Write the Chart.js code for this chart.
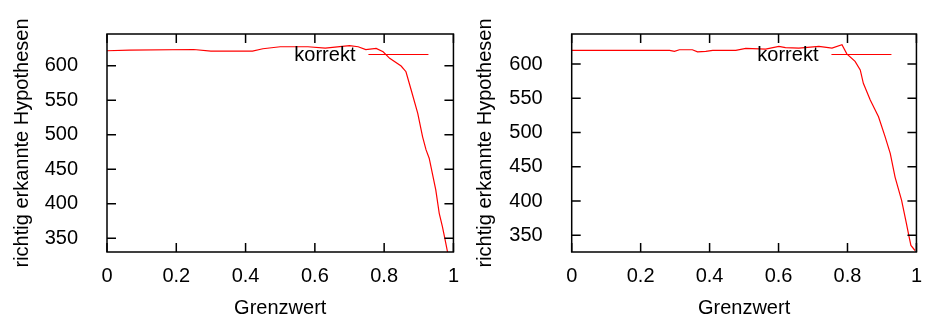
<!DOCTYPE html>
<html>
<head>
<meta charset="utf-8">
<script src="https://cdn.jsdelivr.net/npm/chart.js@4/dist/chart.umd.min.js"></script>
<style>
    body { margin: 0; background: #fff; }
    #wrap { display: flex; width: 926px; height: 320px; }
    canvas { display: block; }
</style>
</head>
<body>
<div id="wrap">
    <canvas id="chartLeft" width="463" height="320"></canvas>
    <canvas id="chartRight" width="463" height="320"></canvas>
</div>
<script>
'use strict';

//
// Data
//

const xTitle = 'Grenzwert';
const yTitle = 'richtig erkannte Hypothesen';
const seriesLabel = 'korrekt';

const xTicks = [0, 0.2, 0.4, 0.6, 0.8, 1];
const yTicks = [350, 400, 450, 500, 550, 600];

const leftThreshold = [0, 0.065, 0.25, 0.30, 0.42, 0.45, 0.50, 0.58, 0.63, 0.70, 0.725, 0.747, 0.777,
    0.797, 0.816, 0.849, 0.863, 0.878, 0.897, 0.911, 0.921, 0.930, 0.949, 0.959, 0.968, 0.975, 0.983];
const leftCorrect = [621.7, 622.7, 623.5, 621.3, 621.3, 624.6, 627.5, 627.5, 625.6, 629, 627.5, 623.5, 625,
    620.3, 610.7, 599.6, 591.3, 564.8, 531, 497, 478, 466, 420, 386, 367, 350, 330];

const rightThreshold = [0, 0.284, 0.298, 0.3125, 0.35, 0.365, 0.389, 0.409, 0.476, 0.505, 0.5625, 0.601, 0.62,
    0.659, 0.717, 0.755, 0.784, 0.798, 0.822, 0.837, 0.846, 0.866, 0.89, 0.909, 0.924, 0.938, 0.957,
    0.971, 0.979, 0.984, 0.996];
const rightCorrect = [620, 620, 618.6, 621, 621, 618, 618.6, 620, 620, 623, 622, 626, 624,
    623.5, 625.8, 623.5, 628.3, 615, 604, 591.6, 572, 547.6, 523, 494, 469.5, 435, 401,
    367, 347, 335, 327.7];

const leftRange = [330, 646];
const rightRange = [325.5, 644];

const fontFamily = '"Liberation Sans", Arial, sans-serif';


//
// Plugins: gnuplot style frame with inward ticks, y label and the key
//

const framePlugin = {
    id: 'frame',
    afterDatasetsDraw(chart) {
        const ctx = chart.ctx;
        const a = chart.chartArea;
        const xs = chart.scales.x;
        const ys = chart.scales.y;
        const len = 9;
        ctx.save();
        ctx.strokeStyle = '#000';
        ctx.lineWidth = 1.5;
        ctx.beginPath();
        xs.ticks.forEach((t) => {
            let px = xs.getPixelForValue(t.value);
            ctx.moveTo(px, a.bottom);
            ctx.lineTo(px, a.bottom - len);
            ctx.moveTo(px, a.top);
            ctx.lineTo(px, a.top + len);
        });
        ys.ticks.forEach((t) => {
            let py = ys.getPixelForValue(t.value);
            ctx.moveTo(a.left, py);
            ctx.lineTo(a.left + len, py);
            ctx.moveTo(a.right, py);
            ctx.lineTo(a.right - len, py);
        });
        ctx.stroke();
        ctx.strokeRect(a.left, a.top, a.right - a.left, a.bottom - a.top);
        ctx.restore();
    }
};

const yLabelPlugin = {
    id: 'yLabel',
    afterDraw(chart, args, opts) {
        const ctx = chart.ctx;
        const a = chart.chartArea;
        ctx.save();
        ctx.translate(opts.x, (a.top + a.bottom) / 2);
        ctx.rotate(-Math.PI / 2);
        ctx.fillStyle = '#000';
        ctx.font = '20px ' + fontFamily;
        ctx.textAlign = 'center';
        ctx.textBaseline = 'middle';
        ctx.fillText(opts.text, 0, 0);
        ctx.restore();
    }
};

const keyPlugin = {
    id: 'key',
    afterDatasetsDraw(chart) {
        const ctx = chart.ctx;
        const a = chart.chartArea;
        const ds = chart.data.datasets[0];
        const y = a.top + 20.5;
        const x1 = a.right - 85;
        const x2 = a.right - 25;
        ctx.save();
        ctx.strokeStyle = ds.borderColor;
        ctx.lineWidth = ds.borderWidth;
        ctx.beginPath();
        ctx.moveTo(x1, y);
        ctx.lineTo(x2, y);
        ctx.stroke();
        ctx.fillStyle = '#000';
        ctx.font = '20px ' + fontFamily;
        ctx.textAlign = 'right';
        ctx.textBaseline = 'middle';
        ctx.fillText(ds.label, x1 - 13, y + 1);
        ctx.restore();
    }
};


//
// Chart builder
//

function makeChart(canvasId, thresholds, values, range, yWidth, rightPad, titleX) {
    const points = thresholds.map((x, i) => ({ x: x, y: values[i] }));
    const font = { family: fontFamily, size: 20 };

    return new Chart(document.getElementById(canvasId), {
        type: 'line',
        data: {
            datasets: [{
                label: seriesLabel,
                data: points,
                borderColor: '#ff0000',
                borderWidth: 1.2,
                pointRadius: 0,
                tension: 0,
                fill: false
            }]
        },
        options: {
            responsive: false,
            animation: false,
            events: [],
            layout: { padding: { top: 34, right: rightPad, left: 0, bottom: 0 } },
            plugins: {
                legend: { display: false },
                tooltip: { enabled: false },
                yLabel: { text: yTitle, x: titleX }
            },
            scales: {
                x: {
                    type: 'linear',
                    min: 0,
                    max: 1,
                    grid: { display: false },
                    border: { display: false },
                    ticks: {
                        color: '#000',
                        font: font,
                        padding: 4,
                        maxRotation: 0,
                        callback: (v) => String(+v.toFixed(1))
                    },
                    afterBuildTicks: (scale) => {
                        scale.ticks = xTicks.map((v) => ({ value: v }));
                    },
                    title: { display: true, text: xTitle, color: '#000', font: font, padding: { top: 4, bottom: 0 } },
                    afterFit: (scale) => { scale.height = 68; }
                },
                y: {
                    min: range[0],
                    max: range[1],
                    grid: { display: false },
                    border: { display: false },
                    ticks: { color: '#000', font: font, padding: 21 },
                    afterBuildTicks: (scale) => {
                        scale.ticks = yTicks.map((v) => ({ value: v }));
                    },
                    afterFit: (scale) => { scale.width = yWidth; }
                }
            }
        },
        plugins: [framePlugin, keyPlugin, yLabelPlugin]
    });
}

makeChart('chartLeft', leftThreshold, leftCorrect, leftRange, 107, 7, 22);
makeChart('chartRight', rightThreshold, rightCorrect, rightRange, 108.7, 8, 22);
</script>
</body>
</html>
